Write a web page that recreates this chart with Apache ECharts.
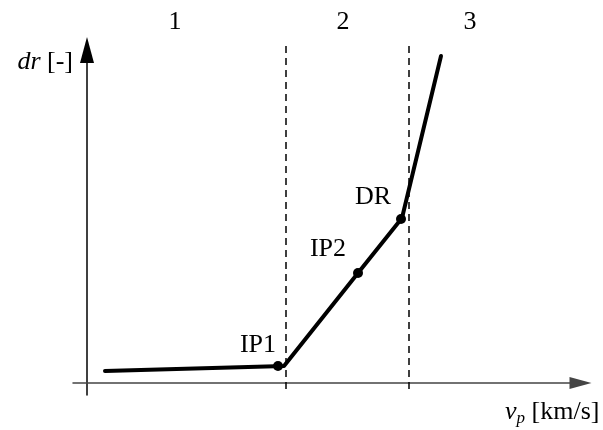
<!DOCTYPE html>
<html>
<head>
<meta charset="utf-8">
<script src="https://cdn.jsdelivr.net/npm/echarts@6/dist/echarts.min.js"></script>
<style>html,body{margin:0;padding:0;background:#fff}#c{width:603px;height:430px}</style>
</head>
<body>
<div id="c"></div>
<script>
// curve vertices (schematic units)
const curveX = [3.6, 39.4, 54.2, 63.0, 70.8];
const curveY = [2.4, 3.4, 22.0, 33.0, 65.4];
// marked points
const pointNames = ['IP1', 'IP2', 'DR'];
const pointX = [38.2, 54.2, 62.8];
const pointY = [3.4, 22.0, 32.8];
// region boundaries (dashed)
const boundaryX = [39.8, 64.4];
const boundaryY = [-1.2, 68];
// region labels
const regionNames = ['1', '2', '3'];
const regionX = [17.6, 51.2, 76.6];
const regionY = 72.2;

const FONT = 'Liberation Serif';
const chart = echarts.init(document.getElementById('c'));

const labelOffsets = [[-20, -21], [-30, -24], [-28, -22]];

const series = [];
series.push({
  type: 'line', data: curveX.map((x, i) => [x, curveY[i]]),
  symbol: 'none', clip: false, z: 5,
  lineStyle: { color: '#000', width: 4, cap: 'round', join: 'round', opacity: 1 }
});
boundaryX.forEach(x => {
  series.push({
    type: 'line', data: boundaryY.map(y => [x, y]), symbol: 'none', clip: false,
    lineStyle: { color: '#000', width: 1.5, type: [7, 5], opacity: 1 }
  });
});
series.push({
  type: 'scatter', clip: false, z: 6,
  data: pointNames.map((n, i) => ({
    name: n, value: [pointX[i], pointY[i]],
    label: { offset: labelOffsets[i] }
  })),
  symbolSize: 10, itemStyle: { color: '#000', opacity: 1 },
  emphasis: { disabled: true },
  label: { show: true, position: 'inside', formatter: '{b}', color: '#000', opacity: 1,
           textBorderWidth: 0, fontFamily: FONT, fontSize: 26 }
});
series.push({
  type: 'scatter', clip: false,
  data: regionNames.map((n, i) => ({ name: n, value: [regionX[i], regionY] })),
  symbolSize: 0, itemStyle: { color: '#000', opacity: 1 },
  emphasis: { disabled: true },
  label: { show: true, position: 'inside', formatter: '{b}', color: '#000', opacity: 1,
           textBorderWidth: 0, fontFamily: FONT, fontSize: 26 }
});

chart.setOption({
  animation: false,
  backgroundColor: '#fff',
  grid: { left: 73, right: 22.5, top: 50, bottom: 35 },
  xAxis: {
    type: 'value', min: -2.8, max: 98.7,
    axisLine: { onZero: true, symbol: ['none', 'triangle'], symbolSize: [12, 22],
                lineStyle: { color: '#444', width: 1.5 } },
    axisTick: { show: false }, axisLabel: { show: false }, splitLine: { show: false },
    name: '{i|v}{s|p} [km/s]', nameLocation: 'end', nameGap: 19,
    nameTextStyle: {
      align: 'right', verticalAlign: 'top', padding: [14, 0, 0, 0],
      fontFamily: FONT, fontSize: 26, color: '#000',
      rich: {
        i: { fontFamily: FONT, fontSize: 26, fontStyle: 'italic', color: '#000', lineHeight: 30 },
        s: { fontFamily: FONT, fontSize: 17, fontStyle: 'italic', color: '#000', lineHeight: 10, verticalAlign: 'bottom' }
      }
    }
  },
  yAxis: {
    type: 'value', min: -2.4, max: 66.6,
    axisLine: { onZero: true, symbol: ['none', 'triangle'], symbolSize: [14, 26],
                lineStyle: { color: '#000', width: 1.5 } },
    axisTick: { show: false }, axisLabel: { show: false }, splitLine: { show: false },
    name: '{i|dr} [-]', nameLocation: 'end', nameGap: -12,
    nameTextStyle: {
      align: 'right', verticalAlign: 'middle', padding: [0, 14, 0, 0],
      fontFamily: FONT, fontSize: 26, color: '#000',
      rich: { i: { fontFamily: FONT, fontSize: 26, fontStyle: 'italic', color: '#000' } }
    }
  },
  series: series
});
</script>
</body>
</html>
